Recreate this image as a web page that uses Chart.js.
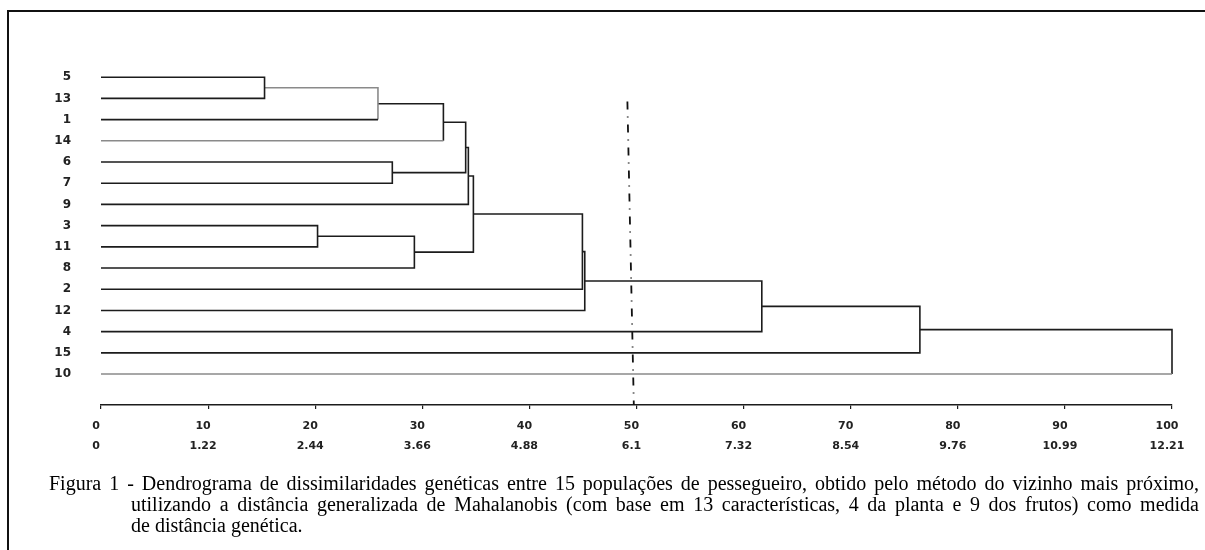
<!DOCTYPE html>
<html>
<head>
<meta charset="utf-8">
<script src="https://cdn.jsdelivr.net/npm/chart.js@4.4.1/dist/chart.umd.min.js"></script>
<style>
  html, body { margin: 0; padding: 0; background: #fff; }
  body { width: 1205px; height: 550px; position: relative; overflow: hidden; }
  #frame { position: absolute; left: 7px; top: 10px; width: 1400px; height: 700px;
           border-top: 2px solid #111; border-left: 2px solid #111; }
  #c { position: absolute; left: 0; top: 0; }
  .cap { position: absolute; font-family: 'Liberation Serif', 'Times New Roman', serif;
         font-size: 20px; line-height: 21px; color: #000; white-space: nowrap; }
  .just { text-align: justify; text-align-last: justify; white-space: normal; }
</style>
</head>
<body>
<div id="frame"></div>
<canvas id="c" width="1205" height="550"></canvas>
<div class="cap just" style="left:49px; top:473px; width:1150px;">Figura 1 - Dendrograma de dissimilaridades genéticas entre 15 populações de pessegueiro, obtido pelo método do vizinho mais próximo,</div>
<div class="cap just" style="left:131px; top:494px; width:1068px;">utilizando a distância generalizada de Mahalanobis (com base em 13 características, 4 da planta e 9 dos frutos) como medida</div>
<div class="cap" style="left:131px; top:515px;">de distância genética.</div>
<script>
// ---- data ----
const leafLabels = ['5', '13', '1', '14', '6', '7', '9', '3', '11', '8', '2', '12', '4', '15', '10'];
// merges (m1..m14): left child, right child, linkage distance (0-100 scale)
const mergeLeft   = ['5',  'm1', 'm2', '6',  'm3', 'm5', '3',  'm7', 'm6', 'm9', 'm10', 'm11', 'm12', 'm13'];
const mergeRight  = ['13', '1',  '14', '7',  'm4', '9',  '11', '8',  'm8', '2',  '12',  '4',   '15',  '10'];
const mergeHeight = [15.27, 25.86, 31.97, 27.2, 34.05, 34.3, 20.22, 29.26, 34.77, 44.95, 45.17, 61.7, 76.46, 100];
// cut-off reference line (dash-dot)
const cutLineX = [49.15, 49.75];
const cutLineY = [1.15, 15.46];
// x-axis tick labels (relative distance / absolute distance)
const xTickTop    = ['0', '10', '20', '30', '40', '50', '60', '70', '80', '90', '100'];
const xTickBottom = ['0', '1.22', '2.44', '3.66', '4.88', '6.1', '7.32', '8.54', '9.76', '10.99', '12.21'];

// ---- styles ----
const DARK = '#1c1c1c';
const GRAY = '#8a8a8a';
const grayEdges = new Set(['m1', '14', '10']);
const grayVerticals = new Set(['m2']);
const LW = 1.6;

// ---- build dendrogram segments ----
const pos = {};
leafLabels.forEach((l, i) => { pos[l] = { x: 0, y: i }; });
const datasets = [];
mergeHeight.forEach((h, k) => {
  const id = 'm' + (k + 1);
  const lName = mergeLeft[k], rName = mergeRight[k];
  const L = pos[lName], R = pos[rName];
  pos[id] = { x: h, y: (L.y + R.y) / 2 };
  const colors = [
    grayEdges.has(lName) ? GRAY : DARK,
    grayVerticals.has(id) ? GRAY : DARK,
    grayEdges.has(rName) ? GRAY : DARK
  ];
  datasets.push({
    data: [{ x: L.x, y: L.y }, { x: h, y: L.y }, { x: h, y: R.y }, { x: R.x, y: R.y }],
    showLine: true,
    borderColor: DARK,
    borderWidth: LW,
    pointRadius: 0,
    tension: 0,
    clip: false,
    segment: { borderColor: ctx => colors[ctx.p0DataIndex] }
  });
});
datasets.push({
  data: [{ x: cutLineX[0], y: cutLineY[0] }, { x: cutLineX[1], y: cutLineY[1] }],
  showLine: true,
  borderColor: '#111',
  borderWidth: 1.8,
  borderDash: [8, 7, 1, 7],
  pointRadius: 0,
  clip: false
});

const tickFont = { family: "'DejaVu Sans', sans-serif", size: 11, weight: 'bold', lineHeight: 20 / 11 };

new Chart(document.getElementById('c'), {
  type: 'scatter',
  data: { datasets },
  options: {
    responsive: false,
    animation: false,
    events: [],
    layout: { padding: { left: 21, right: 33, top: 56, bottom: 85 } },
    plugins: { legend: { display: false }, tooltip: { enabled: false }, title: { display: false } },
    scales: {
      x: {
        type: 'linear', min: 0, max: 100,
        afterFit: s => { s.height = 60; },
        border: { display: true, color: DARK, width: 1.5 },
        grid: { display: true, drawOnChartArea: false, drawTicks: true, tickLength: 4, color: DARK, lineWidth: 1.2 },
        ticks: {
          stepSize: 10, autoSkip: false, maxRotation: 0, padding: 7.5, labelOffset: -5,
          color: '#222', font: tickFont,
          callback: v => { const i = Math.round(v / 10); return [xTickTop[i], xTickBottom[i]]; }
        }
      },
      y: {
        type: 'linear', reverse: true, min: -1, max: 15.46,
        afterFit: s => { s.width = 80; },
        afterBuildTicks: s => { s.ticks = leafLabels.map((_, i) => ({ value: i })); },
        border: { display: false },
        grid: { display: false, drawTicks: false },
        ticks: {
          autoSkip: false, padding: 30, color: '#222', font: { family: "'DejaVu Sans', sans-serif", size: 12, weight: 'bold' },
          callback: v => leafLabels[v]
        }
      }
    }
  }
});
</script>
</body>
</html>
